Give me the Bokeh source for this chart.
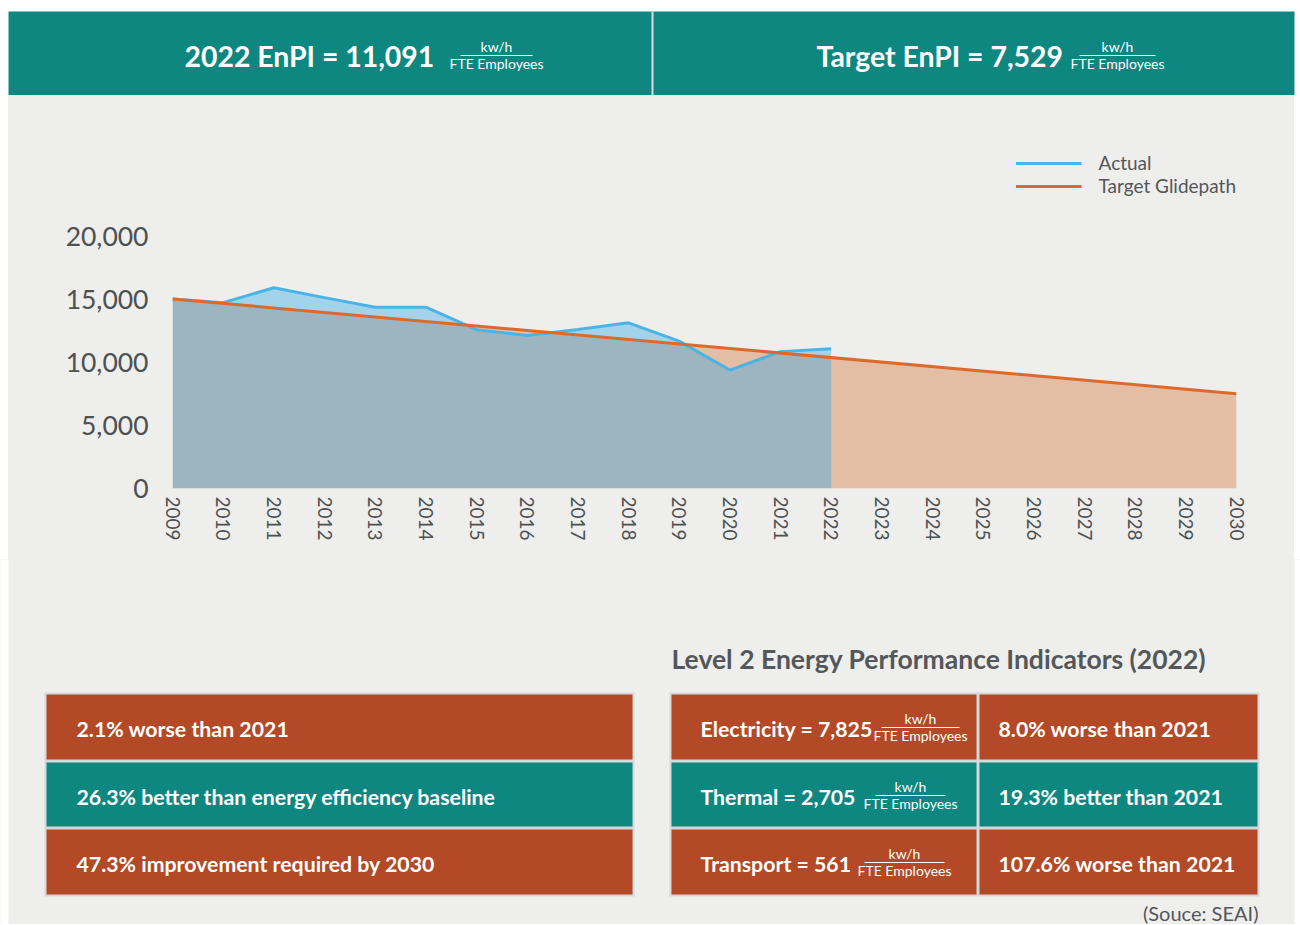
from bokeh.plotting import figure
from bokeh.layouts import row
from bokeh.models import Range1d, FixedTicker, NumeralTickFormatter, Spacer
from bokeh.core.properties import value
from bokeh.embed import file_html
from bokeh.resources import INLINE

# ---------------- data ----------------
years = [2009, 2010, 2011, 2012, 2013, 2014, 2015, 2016, 2017, 2018, 2019, 2020, 2021, 2022]
actual = [15049, 14750, 15930, 15150, 14390, 14390, 12600, 12150, 12620, 13150, 11700, 9400, 10863, 11091]
target_years = [2009, 2030]
target_values = [15049, 7529]
year_ticks = [2009, 2010, 2011, 2012, 2013, 2014, 2015, 2016, 2017, 2018, 2019,
              2020, 2021, 2022, 2023, 2024, 2025, 2026, 2027, 2028, 2029, 2030]
y_ticks = [0, 5000, 10000, 15000, 20000]

header_texts = ["2022 EnPI = 11,091", "Target EnPI = 7,529"]
unit_top = "kw/h"
unit_bottom = "FTE Employees"
summary_texts = ["2.1% worse than 2021",
                 "26.3% better than energy efficiency baseline",
                 "47.3% improvement required by 2030"]
summary_status = ["worse", "better", "worse"]
level2_title = "Level 2 Energy Performance Indicators (2022)"
level2_names = ["Electricity = 7,825", "Thermal = 2,705", "Transport = 561"]
level2_changes = ["8.0% worse than 2021", "19.3% better than 2021", "107.6% worse than 2021"]
level2_status = ["worse", "better", "worse"]
source_text = "(Souce: SEAI)"

# ---------------- style ----------------
FONT = value("Lato")
TEAL = "#0e8780"
RED = "#b34926"
BG = "#eeeeec"
GRAY_TXT = "#53575a"
BORDER = "#d6d9da"
BLUE = "#4bb4e6"
ORANGE = "#dc6a2c"
PAGE_W = 1300
status_color = {"worse": RED, "better": TEAL}


def blank(y0, y1, fill="white"):
    p = figure(width=PAGE_W, height=y1 - y0, x_range=Range1d(0, PAGE_W), y_range=Range1d(y1, y0),
               output_backend="svg", toolbar_location=None,
               x_axis_location=None, y_axis_location=None, min_border=0)
    p.grid.visible = False
    p.outline_line_color = None
    p.background_fill_color = fill
    p.border_fill_color = fill
    return p


def fraction(p, cx, cy, half, size="14px"):
    p.segment(x0=[cx - half], y0=[cy], x1=[cx + half], y1=[cy], line_color="white", line_width=1)
    p.text(x=[cx], y=[cy - 1], text=[unit_top], text_font=FONT, text_font_size=size,
           text_color="white", text_align="center", text_baseline="bottom")
    p.text(x=[cx], y=[cy - 1], text=[unit_bottom], text_font=FONT, text_font_size=size,
           text_color="white", text_align="center", text_baseline="top")


# ---------------- header ----------------
h = blank(0, 95)
h.quad(left=[8], right=[1294], top=[11], bottom=[97], fill_color=TEAL, line_color=None)
h.segment(x0=[652], y0=[11], x1=[652], y1=[97], line_color="#d5dedd", line_width=2)
h.text(x=[184, 816], y=[55, 55], text=header_texts, text_font=FONT, text_font_style="bold",
       text_font_size="28.4px", text_color="white", text_align="left", text_baseline="middle")
fraction(h, 496, 55, 36)
fraction(h, 1117, 55, 38)

# ---------------- main chart ----------------
frame_top, frame_bottom, px20k = 151, 488, 236
y_end = 20000 * (frame_bottom - frame_top) / (frame_bottom - px20k)
p = figure(width=1286, height=465, x_range=Range1d(2009, 2030), y_range=Range1d(0, y_end),
           output_backend="svg", toolbar_location=None,
           min_border_left=164, min_border_right=58, min_border_top=frame_top - 95,
           min_border_bottom=560 - frame_bottom)
p.background_fill_color = None
p.border_fill_color = None
p.styles = {"background-color": BG}
p.outline_line_color = None
p.grid.visible = False

p.varea(x=target_years, y1=[0, 0], y2=target_values, fill_color="#d36a2c", fill_alpha=0.37)
p.varea(x=years, y1=[0] * len(years), y2=actual, fill_color="#30aaec", fill_alpha=0.40)
p.line(x=years, y=actual, line_color=BLUE, line_width=3, legend_label="Actual")
p.line(x=target_years, y=target_values, line_color=ORANGE, line_width=3, legend_label="Target Glidepath")

for ax in (p.xaxis[0], p.yaxis[0]):
    ax.axis_line_color = None
    ax.major_tick_line_color = None
    ax.minor_tick_line_color = None
    ax.major_label_text_font = "Lato"
    ax.major_label_text_color = "#4d5153"
p.yaxis.ticker = FixedTicker(ticks=y_ticks)
p.yaxis.formatter = NumeralTickFormatter(format="0,0")
p.yaxis.major_label_text_font_size = "26.5px"
p.yaxis.major_label_standoff = 18
p.xaxis.ticker = FixedTicker(ticks=year_ticks)
p.xaxis.major_label_orientation = "vertical"
p.xaxis.major_label_text_font_size = "19px"
p.xaxis.major_label_standoff = 2

lg = p.legend[0]
lg.location = "top_right"
lg.background_fill_alpha = 0
lg.border_line_color = None
lg.padding = 0
lg.margin = 0
lg.spacing = 0
lg.glyph_width = 66
lg.glyph_height = 20
lg.label_height = 20
lg.label_standoff = 17
lg.label_text_font = "Lato"
lg.label_text_font_size = "19px"
lg.label_text_color = GRAY_TXT

main = row(Spacer(width=8, height=465), p, spacing=0)

# ---------------- bottom panel ----------------
b = blank(560, 925, fill=None)
b.styles = {"background-color": BG, "margin-top": "-1px"}
b.quad(left=[-5, 1294], right=[8, 1305], top=[555, 555], bottom=[930, 930],
       fill_color="white", line_color=None)
rows_top = [695, 763, 830]
rows_bot = [760, 827, 895]
rows_mid = [729, 797, 864]

# left summary column
b.quad(left=[44], right=[634], top=[693], bottom=[897], fill_color=BORDER, line_color=None)
b.quad(left=[46] * 3, right=[632] * 3, top=rows_top, bottom=rows_bot,
       fill_color=[status_color[s] for s in summary_status], line_color=None)
b.text(x=[76] * 3, y=rows_mid, text=summary_texts, text_font=FONT, text_font_style="bold",
       text_font_size="21.3px", text_color="white", text_align="left", text_baseline="middle")

# right level-2 table
b.text(x=[671], y=[659], text=[level2_title], text_font=FONT, text_font_style="bold",
       text_font_size="26.5px", text_color=GRAY_TXT, text_align="left", text_baseline="middle")
b.quad(left=[669], right=[1259], top=[693], bottom=[897], fill_color=BORDER, line_color=None)
b.quad(left=[671] * 3, right=[976] * 3, top=rows_top, bottom=rows_bot,
       fill_color=[status_color[s] for s in level2_status], line_color=None)
b.quad(left=[979] * 3, right=[1257] * 3, top=rows_top, bottom=rows_bot,
       fill_color=[status_color[s] for s in level2_status], line_color=None)
b.text(x=[700] * 3, y=rows_mid, text=level2_names, text_font=FONT, text_font_style="bold",
       text_font_size="21.3px", text_color="white", text_align="left", text_baseline="middle")
b.text(x=[998] * 3, y=rows_mid, text=level2_changes, text_font=FONT, text_font_style="bold",
       text_font_size="21.3px", text_color="white", text_align="left", text_baseline="middle")
fraction(b, 920, 728, 39)
fraction(b, 910, 796, 35)
fraction(b, 904, 863, 40)

b.text(x=[1258], y=[913], text=[source_text], text_font=FONT, text_font_size="20px",
       text_color=GRAY_TXT, text_align="right", text_baseline="middle")

open("out.html", "w").write(file_html([h, main, b], INLINE))
